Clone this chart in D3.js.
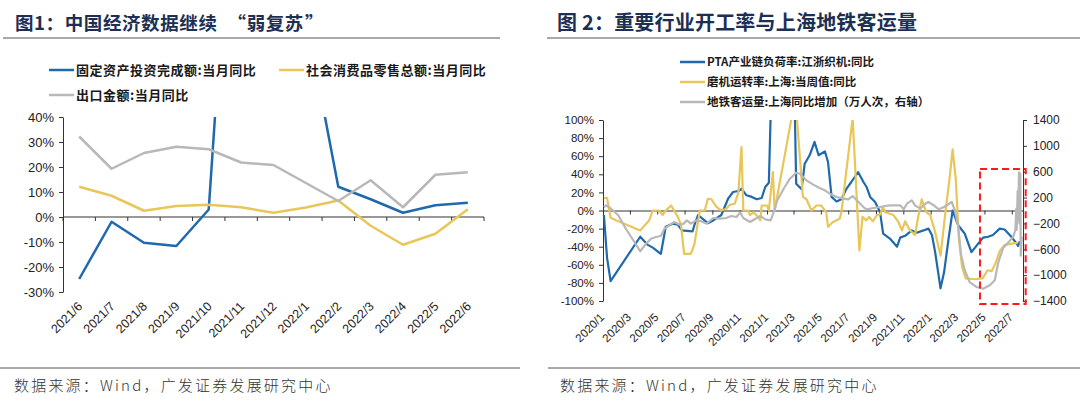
<!DOCTYPE html>
<html>
<head>
<meta charset="utf-8">
<script src="https://cdn.jsdelivr.net/npm/d3@7"></script>
<style>
  body { margin: 0; background: #fff; }
  svg { display: block; font-family: "Liberation Sans", Arial, sans-serif; }
  .cjk { font-family: "Noto Sans CJK SC", sans-serif; }
</style>
</head>
<body>
<svg id="chart" width="1080" height="406"></svg>
<script>
// -------------------------------
// Data: left chart (monthly, %)
// -------------------------------
const months = ["2021/6", "2021/7", "2021/8", "2021/9", "2021/10", "2021/11", "2021/12",
  "2022/1", "2022/2", "2022/3", "2022/4", "2022/5", "2022/6"];
const fixedAsset = [-24.8, -1.9, -10.3, -11.6, 3, 195, 180, 80, 12.1, 7.1, 1.7, 4.7, 5.7];
const retail = [12.1, 8.5, 2.5, 4.4, 4.9, 3.9, 1.7, 3.8, 6.6, -3.5, -11.1, -6.7, 3.1];
const exportsYoy = [32.2, 19.3, 25.6, 28.1, 27.1, 21.8, 20.8, 13.6, 6.4, 14.7, 3.9, 16.9, 17.9];
const leftTicks = [-30, -20, -10, 0, 10, 20, 30, 40];

// -------------------------------
// Data: right chart (weekly)
// -------------------------------
const ptaLoad = [["2020-01-03",-5],["2020-01-10",-52],["2020-01-18",-78],["2020-03-24",-29],["2020-04-10",-38],
  ["2020-04-21",-41],["2020-05-09",-48],["2020-05-20",-18],["2020-06-05",-14.5],["2020-06-16",-15.6],["2020-06-25",-22],
  ["2020-07-19",-23],["2020-07-23",-16],["2020-07-31",-5],["2020-08-22",-14],["2020-09-03",-11],["2020-09-21",-5],
  ["2020-10-06",13],["2020-10-17",20.4],["2020-10-29",21.5],["2020-11-05",24],["2020-11-16",16.8],["2020-11-28",15],
  ["2020-12-09",12.4],["2020-12-20",13.8],["2020-12-28",26],["2021-01-05",30.7],["2021-01-12",160],["2021-02-10",320],
  ["2021-03-02",160],["2021-03-07",29.6],["2021-03-19",23.4],["2021-03-26",51.7],["2021-04-06",61],["2021-04-17",75.7],
  ["2021-04-26",61],["2021-05-10",65.4],["2021-05-17",53.6],["2021-05-25",15],["2021-06-05",10],["2021-06-16",12.4],
  ["2021-06-27",24],["2021-07-08",31.5],["2021-07-23",42.5],["2021-08-04",31.5],["2021-08-11",26],["2021-08-19",15],
  ["2021-08-30",9.4],["2021-09-10",-1.6],["2021-09-17",-25.6],["2021-10-02",-31],["2021-10-18",-40],["2021-10-25",-30],
  ["2021-11-05",-28],["2021-11-20",-22],["2021-12-01",-24.5],["2021-12-16",-22],["2021-12-27",-20],["2022-01-04",-27.4],
  ["2022-01-11",-46],["2022-01-23",-86],["2022-01-31",-68],["2022-02-10",-31],["2022-02-19",0],["2022-03-03",-16],
  ["2022-03-18",-25.6],["2022-04-02",-46],["2022-04-17",-36.6],["2022-04-28",-30],["2022-05-09",-29],["2022-05-20",-27],
  ["2022-06-04",-20],["2022-06-15",-21],["2022-06-30",-29],["2022-07-11",-36],["2022-07-15",-39],["2022-07-19",-34]];

const millRate = [["2020-01-03",13.8],["2020-01-10",14],["2020-01-18",-8],["2020-01-31",-11],["2020-03-24",-22],
  ["2020-04-02",-17],["2020-04-13",-11],["2020-04-21",0],["2020-05-05",0],["2020-05-13",-5],["2020-05-20",0],
  ["2020-06-01",5.5],["2020-06-16",-7],["2020-06-23",-16],["2020-06-30",-48],["2020-07-15",-48],["2020-07-23",-37],
  ["2020-08-04",0],["2020-08-15",0],["2020-08-22",13],["2020-08-30",12.4],["2020-09-10",4],["2020-09-21",0],
  ["2020-10-02",2],["2020-10-10",6.4],["2020-10-21",7.5],["2020-10-29",20],["2020-11-05",70],["2020-11-09",0],
  ["2020-11-20",0],["2020-11-24",-5],["2020-12-02",-2],["2020-12-09",-5.5],["2020-12-17",-11],["2020-12-20",5.5],
  ["2021-01-01",5.5],["2021-01-05",0],["2021-01-14",42.5],["2021-01-18",0],["2021-03-05",125],["2021-03-22",15],
  ["2021-03-30",12.4],["2021-04-10",0],["2021-04-21",5.5],["2021-05-02",5.5],["2021-05-13",-2],["2021-05-17",-18],
  ["2021-05-28",-12.7],["2021-06-12",-9],["2021-06-16",-1.6],["2021-07-11",102],["2021-07-26",-44],["2021-08-02",-7],
  ["2021-08-10",-11],["2021-08-17",-7],["2021-08-25",-12],["2021-09-03",-5],["2021-09-10",-4.6],["2021-09-17",4],
  ["2021-09-21",-1.6],["2021-10-10",-5],["2021-10-21",-12.7],["2021-10-29",-22],["2021-11-05",-12],["2021-11-16",-22],
  ["2021-11-27",-27],["2021-12-05",-5],["2021-12-12",12.4],["2021-12-22",-1.6],["2021-12-31",-5],["2022-01-11",-23.8],
  ["2022-01-23",-50],["2022-02-03",-1.6],["2022-02-13",39],["2022-02-19",67.6],["2022-02-26",35],["2022-03-05",-31],
  ["2022-03-12",-62],["2022-03-20",-75],["2022-04-09",-76],["2022-04-27",-75],["2022-05-08",-66],["2022-05-17",-67],
  ["2022-05-26",-58],["2022-06-04",-45],["2022-06-15",-38],["2022-07-07",-36],["2022-07-14",-36]];

const subwayDiff = [["2020-01-03",54],["2020-01-08",80],["2020-01-19",28],["2020-02-04",-74],["2020-02-21",-282],
  ["2020-03-11",-487],["2020-03-24",-631],["2020-04-06",-513],["2020-04-17",-436],["2020-04-28",-410],["2020-05-09",-395],
  ["2020-05-17",-282],["2020-05-28",-229],["2020-06-08",-178],["2020-06-19",-218],["2020-06-29",-204],["2020-07-06",-152],
  ["2020-07-15",-204],["2020-07-27",-152],["2020-08-07",-167],["2020-08-19",-204],["2020-09-03",-116],["2020-09-18",-127],
  ["2020-10-02",-116],["2020-10-13",-85],["2020-10-25",-100],["2020-11-02",-30],["2020-11-09",-116],["2020-11-24",-178],
  ["2020-12-06",-127],["2020-12-17",-85],["2020-12-28",-137],["2021-01-09",-152],["2021-01-16",-23],["2021-01-24",158],
  ["2021-02-07",337],["2021-02-21",492],["2021-03-07",585],["2021-03-15",569],["2021-03-30",467],["2021-04-14",400],
  ["2021-04-28",348],["2021-05-10",312],["2021-05-21",260],["2021-06-05",209],["2021-06-20",183],["2021-07-01",173],
  ["2021-07-11",224],["2021-07-20",158],["2021-08-04",54],["2021-08-11",18],["2021-08-26",39],["2021-09-10",54],
  ["2021-09-21",70],["2021-10-02",80],["2021-10-25",80],["2021-11-02",18],["2021-11-09",105],["2021-11-20",158],
  ["2021-11-27",80],["2021-12-09",28],["2021-12-20",105],["2021-12-27",132],["2022-01-08",80],["2022-01-19",18],
  ["2022-01-31",54],["2022-02-17",132],["2022-02-24",0],["2022-03-03",-229],["2022-03-10",-693],["2022-03-18",-925],
  ["2022-03-29",-1107],["2022-04-13",-1183],["2022-04-28",-1210],["2022-05-13",-1157],["2022-05-24",-1080],
  ["2022-06-01",-800],["2022-06-12",-575],["2022-06-23",-497],["2022-07-04",-410],["2022-07-09",-300],["2022-07-11",30],
  ["2022-07-12",-300],["2022-07-14",300],["2022-07-15",-150],["2022-07-17",590],["2022-07-18",-200],["2022-07-20",570],
  ["2022-07-21",-700],["2022-07-23",-400]];

const rightPctTicks = [-100, -80, -60, -40, -20, 0, 20, 40, 60, 80, 100];
const rightValTicks = [-1400, -1000, -600, -200, 200, 600, 1000, 1400];
const highlightBox = { from: "2022-04-21", to: "2022-08-01", top: 642, bottom: -1447 };

// -------------------------------
// Styles
// -------------------------------
const BLUE = "#1f69ac", GOLD = "#e8c65a", GREY = "#b8b8b8";
const TITLE = "#1d2f52", AXIS = "#333";
const parse = d3.timeParse("%Y-%m-%d");

const svg = d3.select("#chart");

// clip paths
const defs = svg.append("defs");
defs.append("clipPath").attr("id", "clipL").append("rect")
  .attr("x", 60).attr("y", 117).attr("width", 430).attr("height", 180);
defs.append("clipPath").attr("id", "clipR").append("rect")
  .attr("x", 600).attr("y", 120).attr("width", 425).attr("height", 185);

// -------------------------------
// Titles, rules and footer
// -------------------------------
// parts: [text, dx before]
function header(x, parts, size, spacing, lineX0, lineX1) {
  const t = svg.append("text").attr("class", "cjk").attr("x", x).attr("y", 30)
    .attr("font-size", size).attr("font-weight", 700).attr("letter-spacing", spacing).attr("fill", TITLE);
  parts.forEach(([s, dx]) => t.append("tspan").attr("dx", dx).text(s));
  svg.append("line").attr("x1", lineX0).attr("x2", lineX1).attr("y1", 38).attr("y2", 38)
    .attr("stroke", "#8c8c8c").attr("stroke-width", 1.5);
}
header(15, [["图1：中国经济数据继续", 0], ["“", 10], ["弱复苏", 0], ["”", 1]], 18.5, 0.6, 3, 500);
header(557, [["图 2：重要行业开工率与上海地铁客运量", 0]], 20, 0.2, 547, 1080);

function footer(x, lineX0, lineX1) {
  svg.append("line").attr("x1", lineX0).attr("x2", lineX1).attr("y1", 368).attr("y2", 368)
    .attr("stroke", "#555").attr("stroke-width", 1);
  svg.append("text").attr("class", "cjk").attr("x", x).attr("y", 391)
    .attr("font-size", 15).attr("font-weight", 300).attr("letter-spacing", 2.2)
    .attr("fill", "#333").text("数据来源：Wind，广发证券发展研究中心");
}
footer(14, 0, 520);
footer(560, 548, 1080);

function legendItem(x, y, color, text, size, spacing) {
  svg.append("line").attr("x1", x).attr("x2", x + 25).attr("y1", y).attr("y2", y)
    .attr("stroke", color).attr("stroke-width", 2.5);
  svg.append("text").attr("class", "cjk").attr("x", x + 27).attr("y", y + size * 0.38)
    .attr("font-size", size).attr("font-weight", 700).attr("letter-spacing", spacing)
    .attr("fill", "#1a1a1a").text(text);
}

// -------------------------------
// Left chart
// -------------------------------
const xL = d3.scaleBand().domain(months).range([63, 484]);
const yL = d3.scaleLinear().domain([-30, 40]).range([292, 117]);
const cx = (m) => xL(m) + xL.bandwidth() / 2;

legendItem(49, 70, BLUE, "固定资产投资完成额:当月同比", 13, 0.5);
legendItem(279, 70, GOLD, "社会消费品零售总额:当月同比", 13, 0.5);
legendItem(49, 95, GREY, "出口金额:当月同比", 13, 0.5);

const yAxisL = svg.append("g").attr("transform", "translate(63,0)")
  .call(d3.axisLeft(yL).tickValues(leftTicks).tickFormat((d) => d + "%").tickSize(4).tickSizeOuter(0));
yAxisL.selectAll("text").attr("font-size", 13).attr("fill", "#222").attr("dx", -2);
yAxisL.selectAll("line, path").attr("stroke", AXIS);

// x axis on the zero line, ticks at category boundaries
const boundaries = months.map((m) => xL(m)).concat([xL.range()[1]]);
const xAxisL = svg.append("g").attr("transform", `translate(0,${yL(0)})`);
xAxisL.append("line").attr("x1", xL.range()[0]).attr("x2", xL.range()[1]).attr("stroke", AXIS);
xAxisL.selectAll(".tk").data(boundaries).join("line")
  .attr("x1", (d) => d).attr("x2", (d) => d).attr("y1", 0).attr("y2", 4).attr("stroke", AXIS);

svg.append("g").selectAll("text").data(months).join("text")
  .attr("transform", (m) => `translate(${cx(m) + 4},307) rotate(-45)`)
  .attr("text-anchor", "end").attr("font-size", 12.5).attr("fill", "#222").text((m) => m);

const lineL = (vals) => d3.line().x((d, i) => cx(months[i])).y((d) => yL(d))(vals);
const plotL = svg.append("g").attr("clip-path", "url(#clipL)");
[[fixedAsset, BLUE], [retail, GOLD], [exportsYoy, GREY]].forEach(([vals, color]) => {
  plotL.append("path").attr("d", lineL(vals)).attr("fill", "none")
    .attr("stroke", color).attr("stroke-width", 2.5).attr("stroke-linejoin", "round");
});

// -------------------------------
// Right chart
// -------------------------------
const xR = d3.scaleTime().domain([parse("2020-01-01"), parse("2022-07-26")]).range([603, 1023]);
const yR = d3.scaleLinear().domain([-100, 100]).range([301, 120]);
const yR2 = d3.scaleLinear().domain([-1400, 1400]).range([301, 120]);

legendItem(680, 62, BLUE, "PTA产业链负荷率:江浙织机:同比", 11.5, 0);
legendItem(680, 82, GOLD, "磨机运转率:上海:当周值:同比", 11.5, 0);
legendItem(680, 102, GREY, "地铁客运量:上海同比增加（万人次，右轴）", 11.5, 0);

const yAxisR = svg.append("g").attr("transform", "translate(603,0)")
  .call(d3.axisLeft(yR).tickValues(rightPctTicks).tickFormat((d) => d + "%").tickSize(4).tickSizeOuter(0));
yAxisR.selectAll("text").attr("font-size", 11.5).attr("fill", "#222").attr("dx", -2);
yAxisR.selectAll("line, path").attr("stroke", AXIS);

const yAxisR2 = svg.append("g").attr("transform", "translate(1023,0)")
  .call(d3.axisRight(yR2).tickValues(rightValTicks).tickFormat(d3.format("d")).tickSize(4).tickSizeOuter(0));
yAxisR2.selectAll("text").attr("font-size", 12).attr("fill", "#222").attr("dx", 3);
yAxisR2.selectAll("line, path").attr("stroke", AXIS);

const monthTicks = d3.timeMonth.every(2).range(parse("2020-01-01"), parse("2022-07-02"));
const xAxisR = svg.append("g").attr("transform", `translate(0,${yR(0)})`)
  .call(d3.axisBottom(xR).tickValues(monthTicks).tickFormat("").tickSize(4).tickSizeOuter(0));
xAxisR.selectAll("line, path").attr("stroke", AXIS);

const fmt = d3.timeFormat("%Y/%-m");
svg.append("g").selectAll("text").data(monthTicks).join("text")
  .attr("transform", (d) => `translate(${xR(d) + 2},318) rotate(-45)`)
  .attr("text-anchor", "end").attr("font-size", 11.5).attr("fill", "#222").text((d) => fmt(d));

const plotR = svg.append("g").attr("clip-path", "url(#clipR)");
const lineR = (scale) => d3.line().x((d) => xR(parse(d[0]))).y((d) => scale(d[1]));
[[ptaLoad, BLUE, yR], [millRate, GOLD, yR], [subwayDiff, GREY, yR2]].forEach(([vals, color, scale]) => {
  plotR.append("path").attr("d", lineR(scale)(vals)).attr("fill", "none")
    .attr("stroke", color).attr("stroke-width", 2.2).attr("stroke-linejoin", "round");
});

// red dashed highlight
const bx0 = xR(parse(highlightBox.from)), bx1 = xR(parse(highlightBox.to));
const by0 = yR2(highlightBox.top), by1 = yR2(highlightBox.bottom);
svg.append("rect").attr("x", bx0).attr("y", by0).attr("width", bx1 - bx0).attr("height", by1 - by0)
  .attr("fill", "none").attr("stroke", "#ff1a1a").attr("stroke-width", 2).attr("stroke-dasharray", "7,4");
</script>
</body>
</html>
